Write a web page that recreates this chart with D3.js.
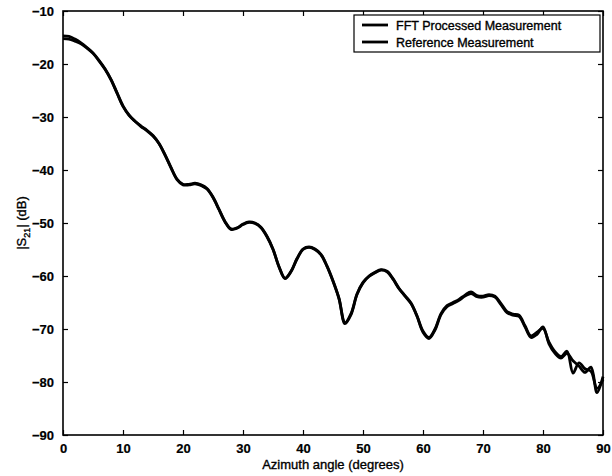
<!DOCTYPE html>
<html>
<head>
<meta charset="utf-8">
<script src="https://d3js.org/d3.v7.min.js"></script>
<style>
  body { margin: 0; background: #fff; }
  svg text { font-family: "Liberation Sans", Arial, sans-serif; fill: #000; stroke: #000; stroke-width: 0.35px; }
</style>
</head>
<body>
<svg id="chart" width="612" height="476"></svg>
<script>
// azimuth angle in degrees
const angles = d3.range(0, 91);
const reference = [
  -15.2, -15.3, -15.7, -16.2, -17.0, -18.0, -19.4, -21.0, -23.0, -25.5,
  -28.0, -29.7, -30.8, -31.8, -32.6, -33.6, -35.0, -37.2, -39.6, -41.8,
  -42.8, -42.8, -42.6, -42.9, -43.6, -45.2, -47.5, -49.8, -51.2, -51.0,
  -50.3, -49.9, -50.1, -50.9, -52.6, -55.0, -58.3, -60.5, -59.2, -56.8,
  -55.0, -54.6, -55.0, -56.0, -58.2, -61.0, -64.3, -69.0, -67.3, -63.5,
  -61.3, -60.1, -59.4, -58.9, -59.2, -60.6, -62.4, -63.8, -65.2, -67.6,
  -70.6, -71.8, -70.2, -67.3, -65.8, -65.2, -64.6, -63.8, -63.3, -63.9,
  -64.0, -63.7, -64.0, -65.4, -66.9, -67.4, -67.6, -69.6, -71.6, -71.0,
  -69.6, -72.8, -74.6, -75.5, -74.6, -76.0, -77.0, -78.2, -77.2, -82.0,
  -79.0
];
const fftProcessed = [
  -14.7, -14.8, -15.3, -16.0, -16.9, -17.9, -19.3, -20.9, -22.9, -25.4,
  -27.9, -29.6, -30.8, -31.7, -32.5, -33.5, -35.0, -37.1, -39.5, -41.7,
  -42.7, -42.7, -42.5, -42.8, -43.5, -45.1, -47.4, -49.7, -51.1, -50.9,
  -50.2, -49.8, -50.0, -50.8, -52.5, -54.9, -58.2, -60.4, -59.1, -56.7,
  -54.9, -54.5, -54.9, -55.9, -58.1, -60.9, -64.2, -68.8, -67.1, -63.4,
  -61.2, -60.0, -59.3, -58.8, -59.1, -60.5, -62.3, -63.7, -65.1, -67.5,
  -70.4, -71.6, -70.0, -67.1, -65.6, -65.0, -64.4, -63.6, -63.0, -63.7,
  -63.8, -63.5, -63.8, -65.2, -66.7, -67.2, -67.4, -69.4, -71.3, -70.6,
  -69.9, -72.5, -74.3, -75.2, -74.2, -78.3, -76.4, -77.5, -78.0, -81.2,
  -79.5
];
const xTicks = [0, 10, 20, 30, 40, 50, 60, 70, 80, 90];
const yTicks = [-90, -80, -70, -60, -50, -40, -30, -20, -10];
const seriesNames = ["FFT Processed Measurement", "Reference Measurement"];

const svg = d3.select("#chart");
const plotL = 63, plotR = 603, plotT = 11, plotB = 435;

const x = d3.scaleLinear().domain([0, 90]).range([plotL, plotR]);
const y = d3.scaleLinear().domain([-90, -10]).range([plotB, plotT]);

// frame
svg.append("rect")
  .attr("x", plotL).attr("y", plotT)
  .attr("width", plotR - plotL).attr("height", plotB - plotT)
  .attr("fill", "none").attr("stroke", "#000").attr("stroke-width", 1.6);

// axes with inward ticks
const fmt = d => d < 0 ? "\u2212" + Math.abs(d) : String(d);
svg.append("g").attr("transform", `translate(0,${plotB})`)
  .call(d3.axisBottom(x).tickValues(xTicks).tickSize(-5).tickPadding(9).tickFormat(fmt))
  .call(g => g.select(".domain").remove());
svg.append("g").attr("transform", `translate(0,${plotT})`)
  .call(d3.axisTop(x).tickValues(xTicks).tickSize(-5).tickFormat(""))
  .call(g => g.select(".domain").remove());
svg.append("g").attr("transform", `translate(${plotL},0)`)
  .call(d3.axisLeft(y).tickValues(yTicks).tickSize(-5).tickPadding(9).tickFormat(fmt))
  .call(g => g.select(".domain").remove());
svg.append("g").attr("transform", `translate(${plotR},0)`)
  .call(d3.axisRight(y).tickValues(yTicks).tickSize(-5).tickFormat(""))
  .call(g => g.select(".domain").remove());

svg.selectAll(".tick line").attr("stroke", "#000").attr("stroke-width", 1.2);
svg.selectAll(".tick text")
  .style("font-size", "13px").style("font-weight", "bold").attr("fill", "#000")
  .style("stroke-width", "0.2px");

// curves
const line = d3.line()
  .x((d, i) => x(angles[i]))
  .y(d => y(d))
  .curve(d3.curveCatmullRom.alpha(0.5));

[reference, fftProcessed].forEach(s => {
  svg.append("path")
    .datum(s)
    .attr("d", line)
    .attr("fill", "none")
    .attr("stroke", "#000")
    .attr("stroke-width", 2.8)
    .attr("stroke-linejoin", "round");
});

// legend
const lg = svg.append("g");
lg.append("rect")
  .attr("x", 354).attr("y", 15).attr("width", 246).attr("height", 37)
  .attr("fill", "#fff").attr("stroke", "#000").attr("stroke-width", 1.2);
seriesNames.forEach((name, i) => {
  const yy = 25 + i * 17;
  lg.append("line")
    .attr("x1", 362).attr("x2", 388).attr("y1", yy).attr("y2", yy)
    .attr("stroke", "#000").attr("stroke-width", 2.8);
  lg.append("text")
    .attr("x", 396).attr("y", yy + 4.5)
    .style("font-size", "12.5px")
    .text(name);
});

// axis labels
svg.append("text")
  .attr("x", (plotL + plotR) / 2).attr("y", 469)
  .attr("text-anchor", "middle")
  .style("font-size", "13px")
  .text("Azimuth angle (degrees)");

const yl = svg.append("text")
  .attr("transform", `translate(26,${(plotT + plotB) / 2}) rotate(-90)`)
  .attr("text-anchor", "middle")
  .style("font-size", "13px");
yl.append("tspan").text("|S");
yl.append("tspan").attr("dy", 4).style("font-size", "9px").text("21");
yl.append("tspan").attr("dy", -4).text("| (dB)");
</script>
</body>
</html>
